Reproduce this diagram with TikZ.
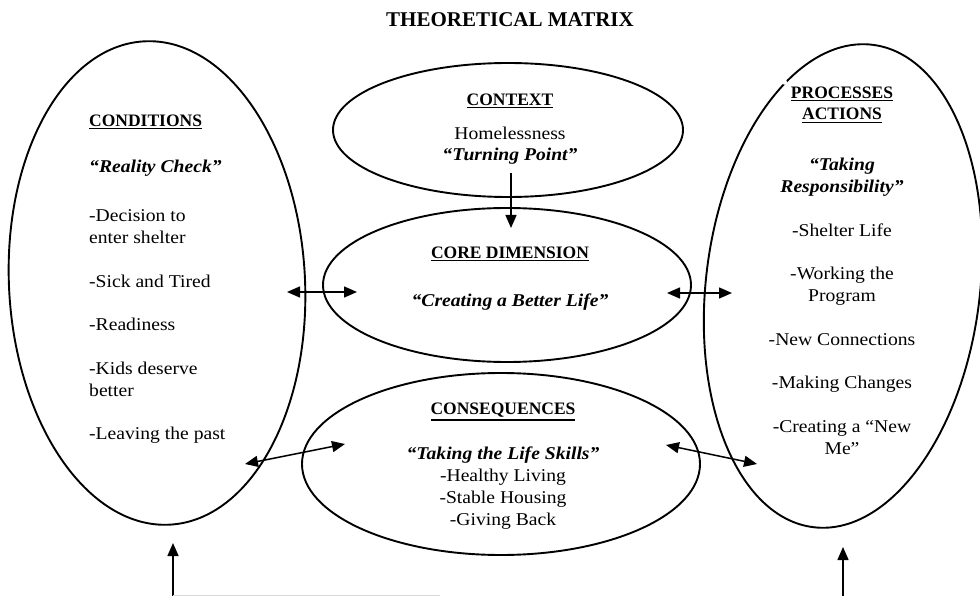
\documentclass[tikz,border=0pt]{standalone}
\usepackage{fontspec}
\setmainfont{Liberation Serif}[FakeStretch=1.09]
\newfontfamily\hdfont{Liberation Serif}
\usetikzlibrary{shapes.geometric,arrows.meta}

% underlined bold heading
\newcommand\headul[1]{{\hdfont\bfseries\fontsize{17.5}{21.8}\selectfont
  \leavevmode\vtop{\hbox{#1}\kern1.6pt\hrule height 1.3pt}}}
% bold italic tag line
\newcommand\tagf[1]{\textbf{\textit{#1}}}

\begin{document}
\begin{tikzpicture}[x=1pt,y=-1pt,
  oval/.style={draw=black, line width=1.9pt, ellipse, inner sep=0pt},
  txt/.style={font=\fontsize{18}{21.8}\selectfont, inner sep=0pt},
  link/.style={line width=1.5pt, {Triangle[length=13pt,width=11pt]}-{Triangle[length=13pt,width=11pt]}},
  onelink/.style={line width=1.5pt, -{Triangle[length=13pt,width=11pt]}}]

\useasboundingbox (0,0) rectangle (980,596);
\fill[white] (0,0) rectangle (980,596);

% title
\node[inner sep=0pt, anchor=base, font=\hdfont\bfseries\fontsize{21}{25}\selectfont] (title) at (510,27) {THEORETICAL MATRIX};

% the five ovals
\node[oval, minimum width=296pt, minimum height=484pt, rotate=3]  (cond) at (157,283) {};
\node[oval, minimum width=274pt, minimum height=486pt, rotate=-7] (proc) at (843,286) {};
\node[oval, minimum width=350pt, minimum height=134pt] (ctx)  at (508,130) {};
\node[oval, minimum width=368pt, minimum height=154pt] (core) at (507,285) {};
\node[oval, minimum width=398pt, minimum height=182pt] (cons) at (501,464) {};

% small break in the outline of the right oval
\fill[white] (proc.113) circle (2.5pt);

% texts (each node is placed by the baseline of its last line)
\node[txt, align=left, anchor=base west] (condtxt) at (89,439.6) {%
  \headul{CONDITIONS}\\[25pt]
  \tagf{“Reality Check”}\\[27pt]
  -Decision to\\
  enter shelter\\[21.8pt]
  -Sick and Tired\\[21.8pt]
  -Readiness\\[21.8pt]
  -Kids deserve\\
  better\\[21.8pt]
  -Leaving the past};

\node[txt, align=center, anchor=base] (proctxt) at (842,454) {%
  \headul{PROCESSES}\\
  \headul{ACTIONS}\\[29pt]
  \tagf{“Taking}\\
  \tagf{Responsibility”}\\[21.8pt]
  -Shelter Life\\[21.8pt]
  -Working the\\
  Program\\[21.8pt]
  -New Connections\\[21.8pt]
  -Making Changes\\[21.8pt]
  -Creating a “New\\
  Me”};

\node[txt, align=center, anchor=base] (ctxtxt) at (510,161) {%
  \headul{CONTEXT}\\[12pt]
  Homelessness\\
  \tagf{“Turning Point”}};

\node[txt, align=center, anchor=base] (coretxt) at (510,306) {%
  \headul{CORE DIMENSION}\\[26pt]
  \tagf{“Creating a Better Life”}};

\node[txt, align=center, anchor=base] (constxt) at (503,525) {%
  \headul{CONSEQUENCES}\\[23pt]
  \tagf{“Taking the Life Skills”}\\
  -Healthy Living\\
  -Stable Housing\\
  -Giving Back};

% arrow end points
\coordinate (ca1) at (287,292); \coordinate (ca2) at (357,292);
\coordinate (cb1) at (667,293); \coordinate (cb2) at (732,293);
\coordinate (cc1) at (245,464); \coordinate (cc2) at (345,444);
\coordinate (cd1) at (666,445); \coordinate (cd2) at (757,464);
\coordinate (ce1) at (511,173); \coordinate (ce2) at (511,228);
\coordinate (bl1) at (173,597); \coordinate (bl2) at (173,543);
\coordinate (br1) at (843,597); \coordinate (br2) at (843,547);
\coordinate (bx0) at (173,595.5); \coordinate (bx1) at (440,595.5);

% connectors
\draw[link] (ca1) -- (ca2);
\draw[link] (cb1) -- (cb2);
\draw[link] (cc1) -- (cc2);
\draw[link] (cd1) -- (cd2);
\draw[onelink] (ce1) -- (ce2);
\draw[onelink] (bl1) -- (bl2);
\draw[onelink] (br1) -- (br2);
\draw[black!15, line width=0.8pt] (bx0) -- (bx1);
\end{tikzpicture}
\end{document}
